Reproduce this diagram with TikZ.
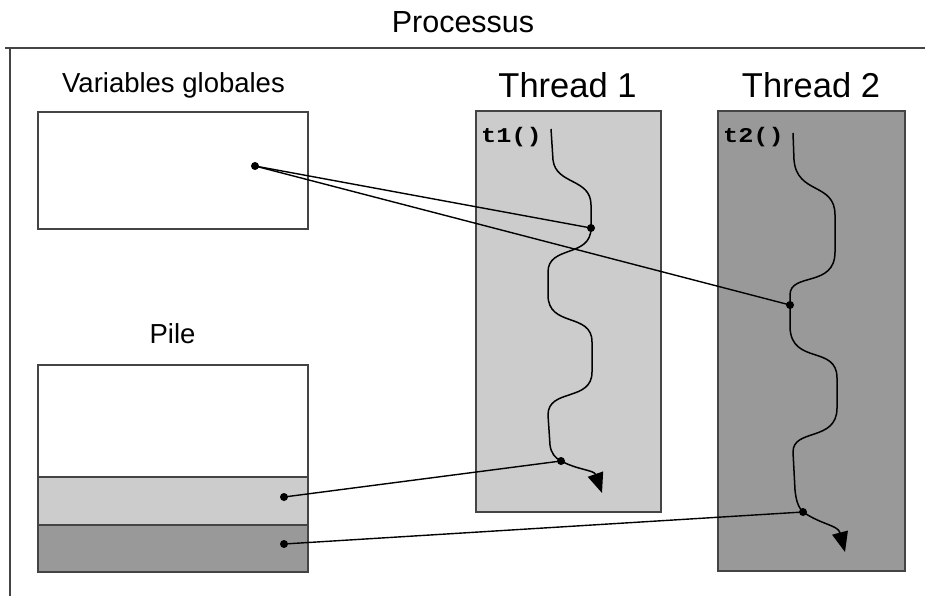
\documentclass[tikz,border=0pt]{standalone}
\usepackage{fontspec}
\usepackage{graphicx}
\setmainfont{Liberation Sans}
\newfontfamily\codefont{Liberation Mono}
\usetikzlibrary{arrows.meta}
\definecolor{lightg}{HTML}{CCCCCC}
\definecolor{darkg}{HTML}{999999}
\definecolor{edge}{HTML}{444444}
\begin{document}
\begin{tikzpicture}[x=1pt,y=-1pt,
  frameline/.style={draw=edge, line width=2pt},
  box/.style={draw=edge, line width=1.8pt, inner sep=0pt, outer sep=0pt, anchor=north west},
  dot/.style={circle, fill=black, inner sep=0pt, minimum size=8pt},
  link/.style={line width=1.4pt},
  flow/.style={line width=1.5pt, -{Triangle[length=20pt,width=16pt]}},
  lbl/.style={anchor=base, inner sep=0pt, font=\fontsize{27.5}{31}\selectfont},
  thlbl/.style={anchor=base, inner sep=0pt, font=\fontsize{34.5}{39}\selectfont},
  code/.style={anchor=base west, inner sep=0pt, font=\codefont\bfseries\fontsize{21}{22}\selectfont}]
\useasboundingbox (0,0) rectangle (925,596);
% title and frame
\node[anchor=base, inner sep=0pt, font=\fontsize{30.5}{34}\selectfont] (title) at (463,33) {Processus};
\coordinate (fa) at (5,48);
\coordinate (fb) at (925,48);
\coordinate (fc) at (10,48);
\coordinate (fd) at (10,596);
\draw[frameline] (fa) -- (fb);
\draw[frameline] (fc) -- (fd);
% global variables
\node[lbl] (globlbl) at (173.5,93) {Variables globales};
\node[box, fill=white, minimum width=270, minimum height=117] (glob) at (38,112) {};
% stack
\node[lbl] (pilelbl) at (172.5,343) {Pile};
\node[box, fill=white, minimum width=270, minimum height=112] (pile0) at (38,365) {};
\node[box, fill=lightg, minimum width=270, minimum height=48] (pile1) at (38,477) {};
\node[box, fill=darkg, minimum width=270, minimum height=47] (pile2) at (38,525) {};
% threads
\node[thlbl] (th1lbl) at (567.5,98) {Thread 1};
\node[thlbl] (th2lbl) at (811,98) {Thread 2};
\node[box, fill=lightg, minimum width=185, minimum height=401] (th1) at (476,111) {};
\node[box, fill=darkg, minimum width=187, minimum height=460] (th2) at (718,111) {};
\node[code] (t1lbl) at (481,143) {\scalebox{1.2}[1]{t1()}};
\node[code] (t2lbl) at (723,143) {\scalebox{1.2}[1]{t2()}};
% dots
\node[dot] (gv) at (255,166) {};
\node[dot] (t1a) at (591,228) {};
\node[dot] (t1b) at (561,461) {};
\node[dot] (t2a) at (790,305) {};
\node[dot] (t2b) at (803,512) {};
\node[dot] (p1) at (284,497) {};
\node[dot] (p2) at (284,544) {};
% thread flows
\draw[flow] (551,129) -- (553,160) .. controls (556,185) and (591,178) .. (591,205)
  -- (t1a.center) .. controls (591,258) and (548,245) .. (548,272)
  -- (548,295) .. controls (548,328) and (592,312) .. (592,342)
  -- (592,372) .. controls (592,402) and (548,388) .. (548,415)
  -- (550,445) .. controls (551,453) and (555,458) .. (t1b.center)
  .. controls (578,470) and (594,470) .. (602,493);
\draw[flow] (793,133) -- (794,160) .. controls (797,195) and (835,182) .. (835,215)
  -- (835,252) .. controls (835,288) and (790,272) .. (790,295)
  -- (t2a.center) -- (790,328) .. controls (792,365) and (837,345) .. (837,378)
  -- (837,408) .. controls (837,442) and (793,428) .. (793,452)
  -- (795,490) .. controls (796,500) and (798,507) .. (t2b.center)
  .. controls (822,525) and (838,525) .. (845,552);
% links
\draw[link] (gv.center) -- (t1a.center);
\draw[link] (gv.center) -- (t2a.center);
\draw[link] (p1.center) -- (t1b.center);
\draw[link] (p2.center) -- (t2b.center);
\end{tikzpicture}
\end{document}
